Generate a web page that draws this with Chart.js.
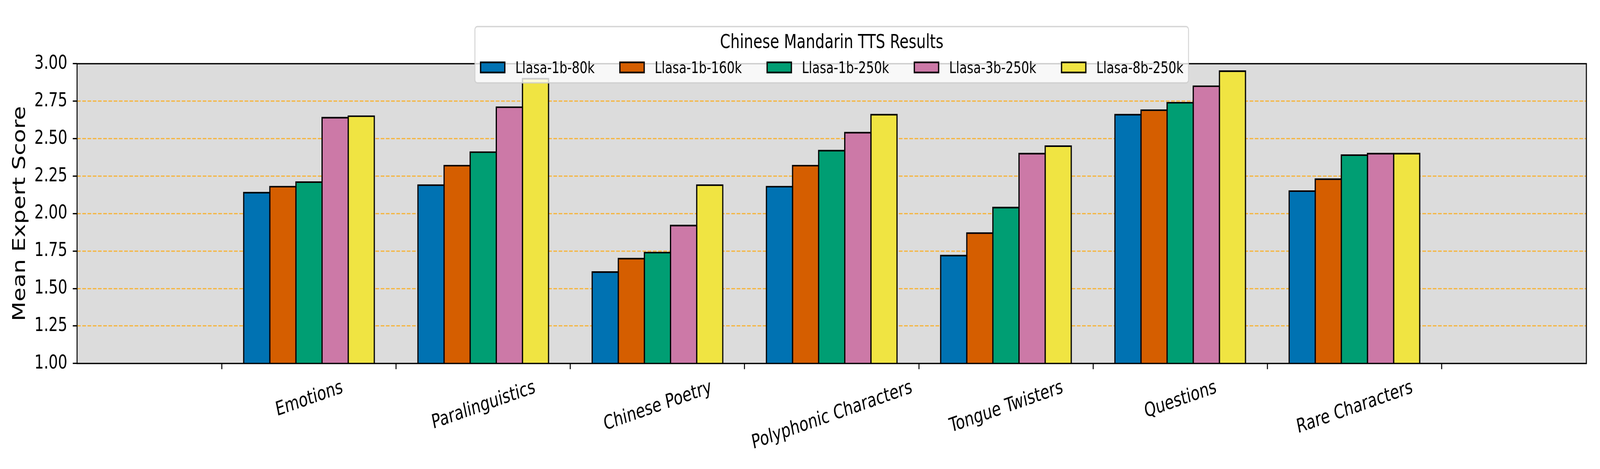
<!DOCTYPE html>
<html>
<head>
<meta charset="utf-8">
<script src="https://cdn.jsdelivr.net/npm/chart.js@4.4.1/dist/chart.umd.min.js"></script>
<style>
  html, body { margin: 0; padding: 0; background: #ffffff; overflow: hidden; }
  canvas { display: block; }
</style>
</head>
<body>
<canvas id="c" width="5400" height="1200"></canvas>
<script>
// ---------------- data ----------------
const categories = ['Emotions', 'Paralinguistics', 'Chinese Poetry', 'Polyphonic Characters', 'Tongue Twisters', 'Questions', 'Rare Characters'];
const seriesNames = ['Llasa-1b-80k', 'Llasa-1b-160k', 'Llasa-1b-250k', 'Llasa-3b-250k', 'Llasa-8b-250k'];
const llasa1b80k  = [2.14, 2.19, 1.61, 2.18, 1.72, 2.66, 2.15];
const llasa1b160k = [2.18, 2.32, 1.70, 2.32, 1.87, 2.69, 2.23];
const llasa1b250k = [2.21, 2.41, 1.74, 2.42, 2.04, 2.74, 2.39];
const llasa3b250k = [2.64, 2.71, 1.92, 2.54, 2.40, 2.85, 2.40];
const llasa8b250k = [2.65, 2.90, 2.19, 2.66, 2.45, 2.95, 2.40];
const yTickValues = [1.00, 1.25, 1.50, 1.75, 2.00, 2.25, 2.50, 2.75, 3.00];
const legendTitle = 'Chinese Mandarin TTS Results';
const yAxisTitle = 'Mean Expert Score';

// ---------------- styles ----------------
const seriesColors = ['#0072B2', '#D55E00', '#009E73', '#CC79A7', '#F0E442'];
const PT = 300 / 72;
const FONT = "'DejaVu Sans', sans-serif";
const allSeries = [llasa1b80k, llasa1b160k, llasa1b250k, llasa3b250k, llasa8b250k];

// The chart is drawn on a 5400x1200 canvas and shown over the whole window.
const cv = document.getElementById('c');
cv.style.width = (window.innerWidth || 5400) + 'px';
cv.style.height = (window.innerHeight || 1200) + 'px';

const datasets = allSeries.map((vals, s) => ({
  label: seriesNames[s],
  data: vals.map((v, i) => ({ x: i, y: v })),
  backgroundColor: seriesColors[s],
  borderColor: '#000000',
  borderWidth: 1.0 * PT,
  inflateAmount: 0.5 * PT,
  borderSkipped: false,
  categoryPercentage: 0.75,
  barPercentage: 1.0
}));

const bgPlugin = {
  id: 'axesBg',
  beforeDraw(chart) {
    const { ctx, chartArea: a } = chart;
    ctx.save();
    ctx.fillStyle = '#dcdcdc';
    ctx.fillRect(a.left, a.top, a.right - a.left, a.bottom - a.top);
    ctx.restore();
  }
};

const framePlugin = {
  id: 'frame',
  afterDatasetsDraw(chart) {
    const { ctx, chartArea: a } = chart;
    ctx.save();
    ctx.strokeStyle = '#000000';
    ctx.lineWidth = 0.8 * PT;
    ctx.strokeRect(a.left, a.top, a.right - a.left, a.bottom - a.top);
    ctx.restore();
  }
};

const xLabelPlugin = {
  id: 'xLabels',
  afterDraw(chart) {
    const { ctx } = chart;
    const xs = chart.scales.x;
    const a = chart.chartArea;
    const fs = 12 * PT;
    const H = 1.164 * fs;
    const rot = 15 * Math.PI / 180;
    ctx.save();
    ctx.font = fs + 'px ' + FONT;
    ctx.fillStyle = '#000000';
    ctx.textAlign = 'center';
    ctx.textBaseline = 'alphabetic';
    const top = a.bottom + 3.5 * PT + 3.5 * PT;
    categories.forEach((lab, i) => {
      const px = xs.getPixelForValue(i);
      const W = ctx.measureText(lab).width;
      const yc = top + (W * Math.sin(rot) + H * Math.cos(rot)) / 2;
      ctx.save();
      ctx.translate(px, yc);
      ctx.rotate(-rot);
      ctx.fillText(lab, 0, (0.928 - 0.236) / 2 * fs);
      ctx.restore();
    });
    ctx.restore();
  }
};

const legendPlugin = {
  id: 'customLegend',
  afterDraw(chart) {
    const { ctx } = chart;
    const a = chart.chartArea;
    const fs = 10 * PT;
    const tfs = 12 * PT;
    const swW = 86, swH = 30, gapText = 0.8 * fs, colSpace = 2.0 * fs, pad = 17;
    ctx.save();
    ctx.font = fs + 'px ' + FONT;
    const items = chart.data.datasets.map(d => ({ label: d.label, color: d.backgroundColor, w: ctx.measureText(d.label).width }));
    let total = 0;
    items.forEach((it, k) => { total += swW + gapText + it.w + (k < items.length - 1 ? colSpace : 0); });
    const cx = (a.left + a.right) / 2;
    const rowLeft = cx - total / 2;
    const boxL = rowLeft - pad, boxR = rowLeft + total + pad;
    const boxT = 68, boxB = 212, r = 8;
    ctx.beginPath();
    ctx.moveTo(boxL + r, boxT);
    ctx.lineTo(boxR - r, boxT);
    ctx.arcTo(boxR, boxT, boxR, boxT + r, r);
    ctx.lineTo(boxR, boxB - r);
    ctx.arcTo(boxR, boxB, boxR - r, boxB, r);
    ctx.lineTo(boxL + r, boxB);
    ctx.arcTo(boxL, boxB, boxL, boxB - r, r);
    ctx.lineTo(boxL, boxT + r);
    ctx.arcTo(boxL, boxT, boxL + r, boxT, r);
    ctx.closePath();
    ctx.fillStyle = 'rgba(255,255,255,0.8)';
    ctx.fill();
    ctx.strokeStyle = 'rgba(204,204,204,0.8)';
    ctx.lineWidth = 0.8 * PT;
    ctx.stroke();
    ctx.fillStyle = '#000000';
    ctx.font = tfs + 'px ' + FONT;
    ctx.textAlign = 'center';
    ctx.textBaseline = 'alphabetic';
    ctx.fillText(legendTitle, cx, 123);
    ctx.font = fs + 'px ' + FONT;
    ctx.textAlign = 'left';
    let x = rowLeft;
    const swTop = 157.5;
    items.forEach((it) => {
      ctx.fillStyle = it.color;
      ctx.fillRect(x, swTop, swW, swH);
      ctx.strokeStyle = '#000000';
      ctx.lineWidth = 1.0 * PT;
      ctx.strokeRect(x + 0.5 * PT, swTop + 0.5 * PT, swW - PT, swH - PT);
      ctx.fillStyle = '#000000';
      ctx.fillText(it.label, x + swW + gapText, 187);
      x += swW + gapText + it.w + colSpace;
    });
    ctx.restore();
  }
};

new Chart(cv, {
  type: 'bar',
  data: { datasets },
  options: {
    responsive: false,
    devicePixelRatio: 1,
    animation: false,
    layout: { padding: { top: 163, right: 46, left: 0, bottom: 0 } },
    plugins: {
      legend: { display: false },
      tooltip: { enabled: false },
      title: { display: false }
    },
    scales: {
      x: {
        type: 'linear',
        min: -0.7125,
        max: 6.7125,
        afterBuildTicks(scale) { scale.ticks = categories.map((c, i) => ({ value: i })); },
        afterFit(scale) { scale.height = 270; },
        ticks: { display: false },
        grid: {
          drawOnChartArea: false,
          drawTicks: true,
          tickLength: 3.5 * PT,
          tickColor: '#000000',
          tickWidth: 0.8 * PT
        },
        border: { display: false }
      },
      y: {
        type: 'linear',
        min: 1.0,
        max: 3.0,
        afterBuildTicks(scale) { scale.ticks = yTickValues.map(v => ({ value: v })); },
        afterFit(scale) { scale.width = 260; },
        ticks: {
          callback: (v) => Number(v).toFixed(2),
          font: { family: FONT, size: 12 * PT },
          color: '#000000',
          padding: 18
        },
        grid: {
          drawOnChartArea: true,
          drawTicks: true,
          tickLength: 3.5 * PT,
          tickColor: '#000000',
          tickWidth: 0.8 * PT,
          lineWidth: 0.8 * PT,
          color: (ctx) => (ctx.tick && (ctx.tick.value === 1 || ctx.tick.value === 3)) ? 'rgba(0,0,0,0)' : 'rgba(255,165,0,0.7)'
        },
        border: { display: false, dash: [3.7 * 0.8 * PT, 1.6 * 0.8 * PT] },
        title: {
          display: true,
          text: yAxisTitle,
          color: '#000000',
          font: { family: FONT, size: 14 * PT, lineHeight: 1.0 },
          padding: { top: 40, bottom: 0 }
        }
      }
    }
  },
  plugins: [bgPlugin, framePlugin, xLabelPlugin, legendPlugin]
});
</script>
</body>
</html>
